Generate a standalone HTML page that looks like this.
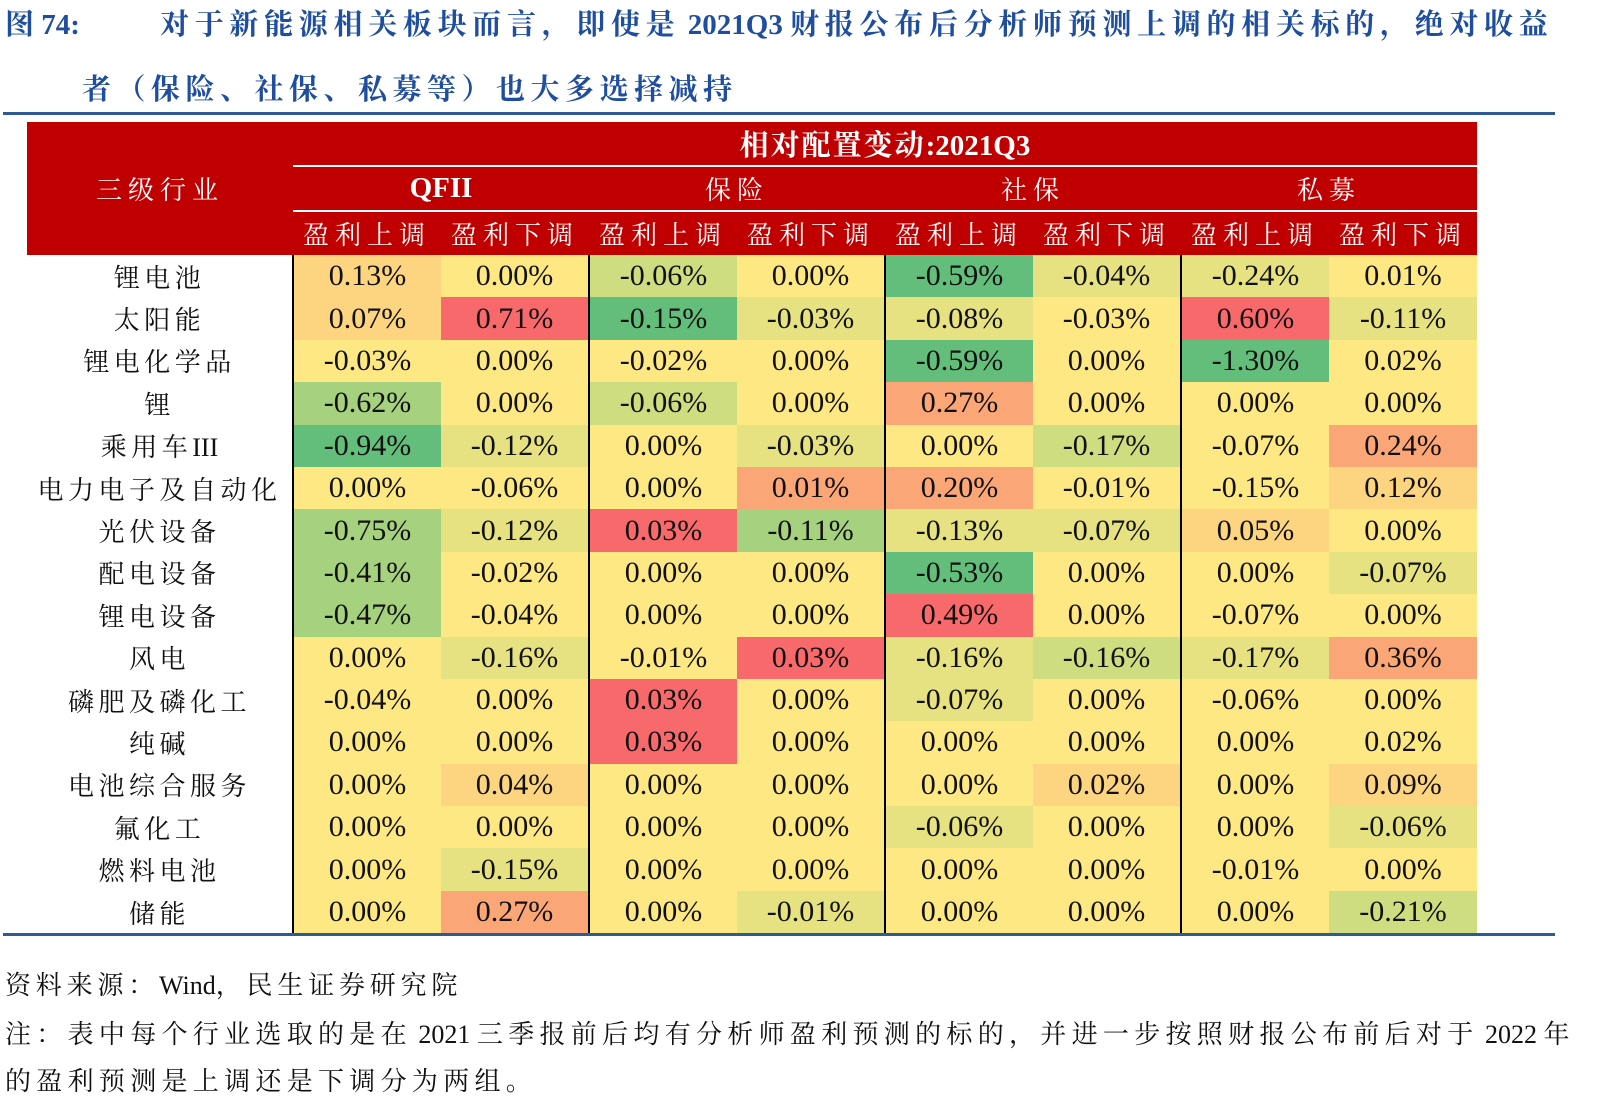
<!DOCTYPE html>
<html><head><meta charset="utf-8"><style>
body{margin:0;width:1597px;height:1116px;background:#fff;position:relative;overflow:hidden;font-family:"Liberation Serif","Noto Serif CJK SC",serif;}
.t{position:absolute;color:#1F4E9F;font-weight:bold;font-size:29px;white-space:nowrap;letter-spacing:5.7px}
.l{letter-spacing:0}
.hr{position:absolute;left:3px;width:1552px;height:3px;background:#2E5B94;}
table{position:absolute;left:27px;top:122px;border-collapse:collapse;table-layout:fixed;}
td{padding:0;text-align:center;font-size:30px;color:#111;height:42.4px;white-space:nowrap;}
th{padding:0;background:#C00000;color:#fff;font-weight:normal;font-size:26px;height:43px;letter-spacing:6px;}
.b{font-weight:bold}
.hl{border-bottom:2px solid #fff}
td.L{border-left:2px solid #000}
.y{background:#FEE883}.g1{background:#E6E282}.g2{background:#CFDD81}.g3{background:#A6D17F}.g4{background:#64BE7B}
.o1{background:#FDD480}.o2{background:#FBA677}.r{background:#F8696B}
.n{letter-spacing:4.5px;font-size:26px}
.s{position:absolute;left:5px;font-size:26px;color:#111;white-space:nowrap;letter-spacing:5.3px}
</style></head><body>
<div class="t" style="left:5px;top:2px"><span class="l">图 74:</span></div>
<div class="t" style="left:160px;top:2px">对于新能源相关板块而言，即使是<span class="l"> 2021Q3 </span>财报公布后分析师预测上调的相关标的，绝对收益</div>
<div class="t" style="left:82px;top:67px;letter-spacing:5.5px">者（保险、社保、私募等）也大多选择减持</div>
<div class="hr" style="top:112px"></div>
<table>
<colgroup><col style="width:266px"><col style="width:148px"><col style="width:148px"><col style="width:148px"><col style="width:148px"><col style="width:148px"><col style="width:148px"><col style="width:148px"><col style="width:148px"></colgroup>
<tr><th rowspan="3">三级行业</th><th colspan="8" class="b hl" style="letter-spacing:2px;font-size:29px">相对配置变动<span class="l">:2021Q3</span></th></tr>
<tr><th colspan="2" class="b hl" style="letter-spacing:0;font-size:29px">QFII</th><th colspan="2" class="hl">保险</th><th colspan="2" class="hl">社保</th><th colspan="2" class="hl">私募</th></tr>
<tr><th>盈利上调</th><th>盈利下调</th><th>盈利上调</th><th>盈利下调</th><th>盈利上调</th><th>盈利下调</th><th>盈利上调</th><th>盈利下调</th></tr>
<tr><td class="n">锂电池</td><td class="L o1">0.13%</td><td class="y">0.00%</td><td class="L g2">-0.06%</td><td class="y">0.00%</td><td class="L g4">-0.59%</td><td class="g1">-0.04%</td><td class="L g1">-0.24%</td><td class="y">0.01%</td></tr>
<tr><td class="n">太阳能</td><td class="L o1">0.07%</td><td class="r">0.71%</td><td class="L g4">-0.15%</td><td class="g1">-0.03%</td><td class="L g1">-0.08%</td><td class="y">-0.03%</td><td class="L r">0.60%</td><td class="g1">-0.11%</td></tr>
<tr><td class="n">锂电化学品</td><td class="L y">-0.03%</td><td class="y">0.00%</td><td class="L y">-0.02%</td><td class="y">0.00%</td><td class="L g4">-0.59%</td><td class="y">0.00%</td><td class="L g4">-1.30%</td><td class="y">0.02%</td></tr>
<tr><td class="n">锂</td><td class="L g3">-0.62%</td><td class="y">0.00%</td><td class="L g2">-0.06%</td><td class="y">0.00%</td><td class="L o2">0.27%</td><td class="y">0.00%</td><td class="L y">0.00%</td><td class="y">0.00%</td></tr>
<tr><td class="n">乘用车<span class="l">III</span></td><td class="L g4">-0.94%</td><td class="g1">-0.12%</td><td class="L y">0.00%</td><td class="g1">-0.03%</td><td class="L y">0.00%</td><td class="g2">-0.17%</td><td class="L y">-0.07%</td><td class="o2">0.24%</td></tr>
<tr><td class="n">电力电子及自动化</td><td class="L y">0.00%</td><td class="y">-0.06%</td><td class="L y">0.00%</td><td class="o2">0.01%</td><td class="L o2">0.20%</td><td class="y">-0.01%</td><td class="L y">-0.15%</td><td class="o1">0.12%</td></tr>
<tr><td class="n">光伏设备</td><td class="L g3">-0.75%</td><td class="g1">-0.12%</td><td class="L r">0.03%</td><td class="g3">-0.11%</td><td class="L g1">-0.13%</td><td class="g1">-0.07%</td><td class="L o1">0.05%</td><td class="y">0.00%</td></tr>
<tr><td class="n">配电设备</td><td class="L g3">-0.41%</td><td class="y">-0.02%</td><td class="L y">0.00%</td><td class="y">0.00%</td><td class="L g4">-0.53%</td><td class="y">0.00%</td><td class="L y">0.00%</td><td class="g1">-0.07%</td></tr>
<tr><td class="n">锂电设备</td><td class="L g3">-0.47%</td><td class="y">-0.04%</td><td class="L y">0.00%</td><td class="y">0.00%</td><td class="L r">0.49%</td><td class="y">0.00%</td><td class="L y">-0.07%</td><td class="y">0.00%</td></tr>
<tr><td class="n">风电</td><td class="L y">0.00%</td><td class="g1">-0.16%</td><td class="L y">-0.01%</td><td class="r">0.03%</td><td class="L g1">-0.16%</td><td class="g2">-0.16%</td><td class="L g1">-0.17%</td><td class="o2">0.36%</td></tr>
<tr><td class="n">磷肥及磷化工</td><td class="L y">-0.04%</td><td class="y">0.00%</td><td class="L r">0.03%</td><td class="y">0.00%</td><td class="L g1">-0.07%</td><td class="y">0.00%</td><td class="L y">-0.06%</td><td class="y">0.00%</td></tr>
<tr><td class="n">纯碱</td><td class="L y">0.00%</td><td class="y">0.00%</td><td class="L r">0.03%</td><td class="y">0.00%</td><td class="L y">0.00%</td><td class="y">0.00%</td><td class="L y">0.00%</td><td class="y">0.02%</td></tr>
<tr><td class="n">电池综合服务</td><td class="L y">0.00%</td><td class="o1">0.04%</td><td class="L y">0.00%</td><td class="y">0.00%</td><td class="L y">0.00%</td><td class="o1">0.02%</td><td class="L y">0.00%</td><td class="o1">0.09%</td></tr>
<tr><td class="n">氟化工</td><td class="L y">0.00%</td><td class="y">0.00%</td><td class="L y">0.00%</td><td class="y">0.00%</td><td class="L g1">-0.06%</td><td class="y">0.00%</td><td class="L y">0.00%</td><td class="g1">-0.06%</td></tr>
<tr><td class="n">燃料电池</td><td class="L y">0.00%</td><td class="g1">-0.15%</td><td class="L y">0.00%</td><td class="y">0.00%</td><td class="L y">0.00%</td><td class="y">0.00%</td><td class="L y">-0.01%</td><td class="y">0.00%</td></tr>
<tr><td class="n">储能</td><td class="L y">0.00%</td><td class="o2">0.27%</td><td class="L y">0.00%</td><td class="g1">-0.01%</td><td class="L y">0.00%</td><td class="y">0.00%</td><td class="L y">0.00%</td><td class="g2">-0.21%</td></tr>
</table>
<div class="hr" style="top:933px"></div>
<div class="s" style="top:965px;letter-spacing:4.8px">资料来源：<span class="l">Wind</span>，民生证券研究院</div>
<div class="s" style="top:1014px">注：表中每个行业选取的是在<span class="l"> 2021 </span>三季报前后均有分析师盈利预测的标的，并进一步按照财报公布前后对于<span class="l"> 2022 </span>年</div>
<div class="s" style="top:1061px">的盈利预测是上调还是下调分为两组。</div>
</body></html>
